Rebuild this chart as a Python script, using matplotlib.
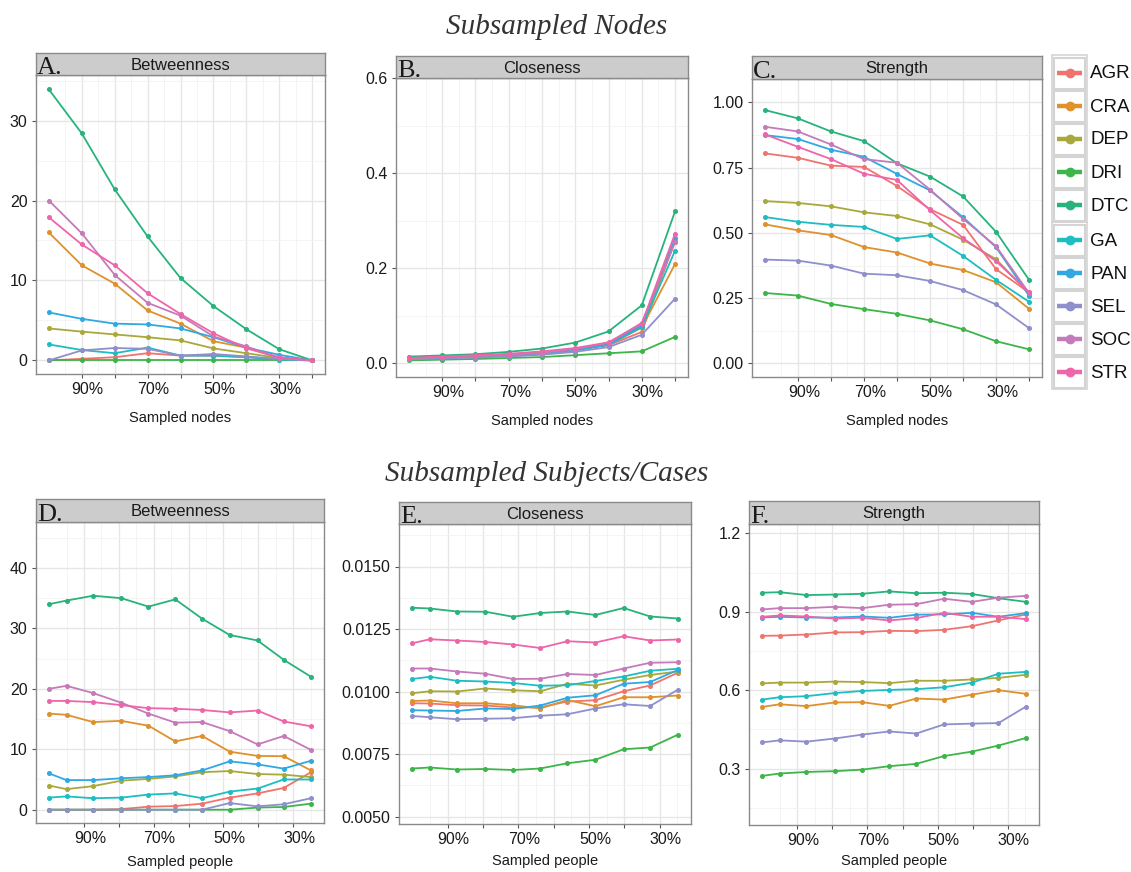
import matplotlib
matplotlib.use('Agg')
import matplotlib.pyplot as plt
import matplotlib.transforms as mtransforms
from matplotlib.patches import Rectangle
from matplotlib.lines import Line2D

plt.rcParams['font.family'] = ['Liberation Sans', 'DejaVu Sans']

W, H = 1131, 872

scales = ['AGR', 'CRA', 'DEP', 'DRI', 'DTC', 'GA', 'PAN', 'SEL', 'SOC', 'STR']
colors = ['#F0746E', '#DE912C', '#A9A83A', '#3DB54A', '#27B37B',
          '#1DBDC2', '#2FA9E1', '#8F8FCC', '#C57AB9', '#EE65A9']

# x positions (% retained)
nodes_pct = [100, 90, 80, 70, 60, 50, 40, 30, 20]
people_pct = [100, 95, 87.4, 79.3, 71.5, 63.8, 56.1, 48.2, 40.2, 32.7, 24.9]

# A. betweenness, subsampled nodes
bet_nodes = {
    'AGR': [0, 0.2, 0.4, 0.9, 0.6, 0.6, 0.4, 0.15, 0],
    'CRA': [16.0, 11.9, 9.6, 6.25, 4.6, 2.4, 1.6, 0.3, 0],
    'DEP': [4.0, 3.6, 3.25, 2.9, 2.5, 1.5, 0.9, 0.3, 0],
    'DRI': [0, 0, 0, 0, 0, 0, 0, 0, 0],
    'DTC': [33.9, 28.4, 21.4, 15.5, 10.3, 6.8, 3.9, 1.4, 0],
    'GA':  [2.0, 1.3, 0.9, 1.6, 0.6, 0.6, 0.4, 0.1, 0],
    'PAN': [6.0, 5.2, 4.6, 4.5, 4.0, 2.9, 1.6, 0.7, 0],
    'SEL': [0, 1.25, 1.55, 1.45, 0.6, 0.8, 0.5, 0.2, 0],
    'SOC': [20.0, 15.9, 10.7, 7.2, 5.6, 3.0, 1.75, 0.3, 0],
    'STR': [17.9, 14.5, 11.9, 8.4, 5.8, 3.4, 1.5, 0.4, 0],
}

# B. closeness, subsampled nodes
clo_nodes = {
    'AGR': [0.010, 0.012, 0.014, 0.017, 0.021, 0.028, 0.038, 0.066, 0.258],
    'CRA': [0.010, 0.012, 0.014, 0.017, 0.021, 0.028, 0.039, 0.075, 0.209],
    'DEP': [0.011, 0.013, 0.015, 0.018, 0.022, 0.029, 0.040, 0.080, 0.256],
    'DRI': [0.006, 0.0075, 0.009, 0.011, 0.013, 0.017, 0.021, 0.025, 0.0555],
    'DTC': [0.014, 0.0165, 0.019, 0.024, 0.031, 0.0435, 0.067, 0.122, 0.320],
    'GA':  [0.010, 0.012, 0.014, 0.017, 0.021, 0.028, 0.039, 0.076, 0.237],
    'PAN': [0.010, 0.012, 0.014, 0.017, 0.021, 0.027, 0.040, 0.080, 0.263],
    'SEL': [0.008, 0.010, 0.012, 0.014, 0.018, 0.024, 0.034, 0.060, 0.136],
    'SOC': [0.011, 0.013, 0.015, 0.018, 0.022, 0.030, 0.043, 0.085, 0.255],
    'STR': [0.011, 0.014, 0.017, 0.020, 0.025, 0.032, 0.044, 0.083, 0.273],
}

# C. strength, subsampled nodes
str_nodes = {
    'AGR': [0.805, 0.788, 0.758, 0.753, 0.680, 0.591, 0.531, 0.361, 0.272],
    'CRA': [0.533, 0.510, 0.492, 0.446, 0.425, 0.383, 0.358, 0.311, 0.209],
    'DEP': [0.622, 0.615, 0.602, 0.579, 0.565, 0.533, 0.474, 0.399, 0.269],
    'DRI': [0.270, 0.260, 0.228, 0.208, 0.190, 0.165, 0.131, 0.085, 0.054],
    'DTC': [0.971, 0.939, 0.889, 0.852, 0.767, 0.716, 0.640, 0.504, 0.320],
    'GA':  [0.561, 0.543, 0.531, 0.523, 0.477, 0.491, 0.412, 0.320, 0.236],
    'PAN': [0.875, 0.860, 0.819, 0.792, 0.726, 0.663, 0.560, 0.445, 0.259],
    'SEL': [0.398, 0.394, 0.375, 0.344, 0.338, 0.316, 0.281, 0.226, 0.135],
    'SOC': [0.907, 0.889, 0.839, 0.783, 0.769, 0.666, 0.554, 0.449, 0.269],
    'STR': [0.878, 0.830, 0.783, 0.727, 0.703, 0.587, 0.480, 0.392, 0.272],
}

# D. betweenness, subsampled people
bet_people = {
    'AGR': [0, 0, 0, 0.1, 0.5, 0.6, 1.0, 2.0, 2.7, 3.6, 6.2],
    'CRA': [15.9, 15.7, 14.5, 14.7, 13.9, 11.3, 12.2, 9.6, 8.9, 8.85, 6.5],
    'DEP': [4.0, 3.4, 3.9, 4.8, 5.1, 5.5, 6.2, 6.4, 5.9, 5.8, 5.4],
    'DRI': [0, 0, 0, 0, 0, 0, 0, 0, 0.35, 0.45, 1.0],
    'DTC': [34.0, 34.6, 35.4, 35.0, 33.6, 34.8, 31.6, 28.9, 28.0, 24.8, 22.0],
    'GA':  [2.0, 2.2, 1.9, 2.0, 2.5, 2.7, 1.9, 3.0, 3.5, 5.0, 5.0],
    'PAN': [6.0, 4.9, 4.9, 5.2, 5.4, 5.7, 6.5, 8.0, 7.5, 6.8, 8.1],
    'SEL': [0, 0, 0, 0, 0, 0, 0, 1.1, 0.55, 0.9, 1.9],
    'SOC': [20.0, 20.5, 19.3, 17.7, 15.9, 14.4, 14.5, 13.0, 10.8, 12.2, 9.9],
    'STR': [18.0, 18.0, 17.8, 17.3, 16.8, 16.7, 16.5, 16.1, 16.4, 14.6, 13.8],
}

# E. closeness, subsampled people
clo_people = {
    'AGR': [0.00953, 0.00952, 0.00945, 0.00944, 0.00936, 0.00937, 0.00960, 0.00965, 0.01001, 0.01024, 0.01075],
    'CRA': [0.00962, 0.00964, 0.00953, 0.00953, 0.00945, 0.00932, 0.00966, 0.00941, 0.00977, 0.00977, 0.00984],
    'DEP': [0.00993, 0.01001, 0.01000, 0.01012, 0.01005, 0.01001, 0.01031, 0.01024, 0.01047, 0.01066, 0.01080],
    'DRI': [0.00692, 0.00696, 0.00688, 0.00690, 0.00686, 0.00692, 0.00713, 0.00727, 0.00769, 0.00776, 0.00827],
    'DTC': [0.01335, 0.01332, 0.01320, 0.01319, 0.01299, 0.01314, 0.01320, 0.01306, 0.01334, 0.01300, 0.01292],
    'GA':  [0.01050, 0.01059, 0.01043, 0.01040, 0.01034, 0.01023, 0.01025, 0.01042, 0.01060, 0.01083, 0.01091],
    'PAN': [0.00925, 0.00924, 0.00922, 0.00932, 0.00930, 0.00944, 0.00975, 0.00985, 0.01031, 0.01038, 0.01086],
    'SEL': [0.00902, 0.00897, 0.00889, 0.00891, 0.00893, 0.00903, 0.00909, 0.00932, 0.00949, 0.00942, 0.01007],
    'SOC': [0.01092, 0.01092, 0.01080, 0.01071, 0.01050, 0.01051, 0.01070, 0.01066, 0.01092, 0.01115, 0.01117],
    'STR': [0.01193, 0.01209, 0.01204, 0.01198, 0.01188, 0.01174, 0.01201, 0.01196, 0.01221, 0.01204, 0.01208],
}

# F. strength, subsampled people
str_people = {
    'AGR': [0.808, 0.809, 0.813, 0.821, 0.822, 0.827, 0.826, 0.831, 0.845, 0.867, 0.890],
    'CRA': [0.536, 0.546, 0.539, 0.553, 0.554, 0.540, 0.568, 0.564, 0.583, 0.600, 0.586],
    'DEP': [0.626, 0.629, 0.629, 0.633, 0.631, 0.627, 0.636, 0.636, 0.641, 0.647, 0.659],
    'DRI': [0.272, 0.281, 0.287, 0.290, 0.296, 0.309, 0.318, 0.348, 0.365, 0.388, 0.417],
    'DTC': [0.973, 0.975, 0.964, 0.966, 0.969, 0.978, 0.971, 0.973, 0.968, 0.952, 0.938],
    'GA':  [0.564, 0.573, 0.577, 0.589, 0.597, 0.601, 0.604, 0.611, 0.629, 0.663, 0.670],
    'PAN': [0.878, 0.881, 0.878, 0.878, 0.882, 0.877, 0.889, 0.890, 0.896, 0.881, 0.895],
    'SEL': [0.400, 0.408, 0.403, 0.415, 0.430, 0.442, 0.434, 0.469, 0.472, 0.474, 0.537],
    'SOC': [0.909, 0.914, 0.914, 0.919, 0.914, 0.927, 0.929, 0.950, 0.938, 0.954, 0.961],
    'STR': [0.881, 0.886, 0.882, 0.874, 0.877, 0.867, 0.876, 0.896, 0.881, 0.881, 0.872],
}


def px_axes(fig, left, top, right, bottom):
    return fig.add_axes([left / W, 1 - bottom / H, (right - left) / W, (bottom - top) / H])


def panel(fig, box, strip_top, letter, title, xs, data, ylim, yticks, yminor, yfmt,
          xlim, xticks, xminor, xlabel, labelpad):
    left, top, right, bottom = box
    ax = px_axes(fig, left, top, right, bottom)
    for i, s in enumerate(scales):
        ax.plot(xs, data[s], color=colors[i], lw=1.3, marker='o', ms=2.6,
                mec=colors[i], zorder=3)
    ax.set_xlim(*xlim)
    ax.set_ylim(*ylim)
    ax.set_yticks(yticks)
    ax.set_yticklabels([yfmt.format(v) for v in yticks])
    ax.set_yticks(yminor, minor=True)
    ax.set_xticks(xticks)
    ax.set_xticklabels(['%d%%' % v if v in (90, 70, 50, 30) else '' for v in xticks])
    ax.set_xticks(xminor, minor=True)
    ax.grid(True, which='major', color='#E6E6E6', lw=1.0, zorder=0)
    ax.grid(True, which='minor', color='#F3F3F3', lw=0.6, zorder=0)
    ax.set_axisbelow(True)
    ax.tick_params(which='major', length=3, width=0.8, color='#555555',
                   labelsize=11.5, labelcolor='#1A1A1A', pad=3)
    ax.tick_params(which='minor', length=0)
    off = mtransforms.ScaledTranslation(6 / 100, 0, fig.dpi_scale_trans)
    for lab in ax.get_xticklabels():
        lab.set_transform(lab.get_transform() + off)
    for sp in ax.spines.values():
        sp.set_color('#8A8A8A')
        sp.set_linewidth(1.0)
    ax.set_xlabel(xlabel, fontsize=10.5, labelpad=labelpad, color='#1A1A1A')

    st = px_axes(fig, left, strip_top, right, top)
    st.set_facecolor('#CCCCCC')
    st.set_xticks([])
    st.set_yticks([])
    for sp in st.spines.values():
        sp.set_color('#8A8A8A')
        sp.set_linewidth(1.0)
    st.text(0.5, 0.45, title, ha='center', va='center', fontsize=12, color='#1A1A1A',
            transform=st.transAxes)
    st.text(0.003, 0.06, letter, ha='left', va='baseline', fontsize=19,
            family='Liberation Serif', color='#1A1A1A', transform=st.transAxes)
    return ax


fig = plt.figure(figsize=(W / 100, H / 100), dpi=100)

top_xt = [90, 80, 70, 60, 50, 40, 30, 20]
top_xm = [95, 85, 75, 65, 55, 45, 35, 25]
bot_xt = [90, 80, 70, 60, 50, 40, 30]
bot_xm = [95, 85, 75, 65, 55, 45, 35, 25]

panel(fig, (36, 75, 325, 374), 53, 'A.', 'Betweenness', nodes_pct, bet_nodes,
      (-1.7, 35.7), [0, 10, 20, 30], [5, 15, 25, 35], '{:d}',
      (103.9, 16.1), top_xt, top_xm, 'Sampled nodes', 10)
panel(fig, (396, 78, 688, 377), 56, 'B.', 'Closeness', nodes_pct, clo_nodes,
      (-0.029, 0.601), [0.0, 0.2, 0.4, 0.6], [0.1, 0.3, 0.5], '{:.1f}',
      (103.9, 16.1), top_xt, top_xm, 'Sampled nodes', 10)
panel(fig, (752, 79, 1042, 377), 56, 'C.', 'Strength', nodes_pct, str_nodes,
      (-0.052, 1.09), [0.0, 0.25, 0.5, 0.75, 1.0], [0.125, 0.375, 0.625, 0.875],
      '{:.2f}', (103.9, 16.1), top_xt, top_xm, 'Sampled nodes', 10)

panel(fig, (36, 522, 324, 823), 499, 'D.', 'Betweenness', people_pct, bet_people,
      (-2.2, 47.6), [0, 10, 20, 30, 40], [5, 15, 25, 35, 45], '{:d}',
      (103.75, 21.15), bot_xt, bot_xm, 'Sampled people', 6)
panel(fig, (399, 524, 691, 824), 502, 'E.', 'Closeness', people_pct, clo_people,
      (0.0047, 0.0167), [0.005, 0.0075, 0.01, 0.0125, 0.015],
      [0.00625, 0.00875, 0.01125, 0.01375, 0.01625], '{:.4f}',
      (103.75, 21.15), bot_xt, bot_xm, 'Sampled people', 5)
panel(fig, (749, 524, 1039, 825), 501, 'F.', 'Strength', people_pct, str_people,
      (0.084, 1.236), [0.3, 0.6, 0.9, 1.2], [0.15, 0.45, 0.75, 1.05], '{:.1f}',
      (103.75, 21.15), bot_xt, bot_xm, 'Sampled people', 4)

fig.text(557 / W, 1 - 27 / H, 'Subsampled Nodes', ha='center', va='center',
         fontsize=21, style='italic', family='Liberation Serif', color='#333333')
fig.text(547 / W, 1 - 474 / H, 'Subsampled Subjects/Cases', ha='center', va='center',
         fontsize=21, style='italic', family='Liberation Serif', color='#333333')

# legend drawn as key boxes
lg = fig.add_axes([0, 0, 1, 1], facecolor='none')
lg.set_xlim(0, W)
lg.set_ylim(H, 0)
lg.axis('off')
key_tops = [57, 90, 123, 156, 189, 224, 257, 290, 323, 356]
for i, s in enumerate(scales):
    y0 = key_tops[i]
    lg.add_patch(Rectangle((1054, y0 + 1), 31, 31, fc='white', ec='#D4D4D4', lw=1.5))
    lg.add_line(Line2D([1057, 1082], [y0 + 16.5, y0 + 16.5], color=colors[i], lw=3.2,
                       solid_capstyle='butt'))
    lg.plot([1069.5], [y0 + 16.5], 'o', color=colors[i], ms=6)
    lg.text(1090, y0 + 17, s, ha='left', va='center', fontsize=13.5, color='#111111')
lg.add_patch(Rectangle((1052, 55), 35, 167, fc='none', ec='#D4D4D4', lw=1.2))
lg.add_patch(Rectangle((1052, 222), 35, 167, fc='none', ec='#D4D4D4', lw=1.2))

fig.savefig('out.png', dpi=100, facecolor='white')
